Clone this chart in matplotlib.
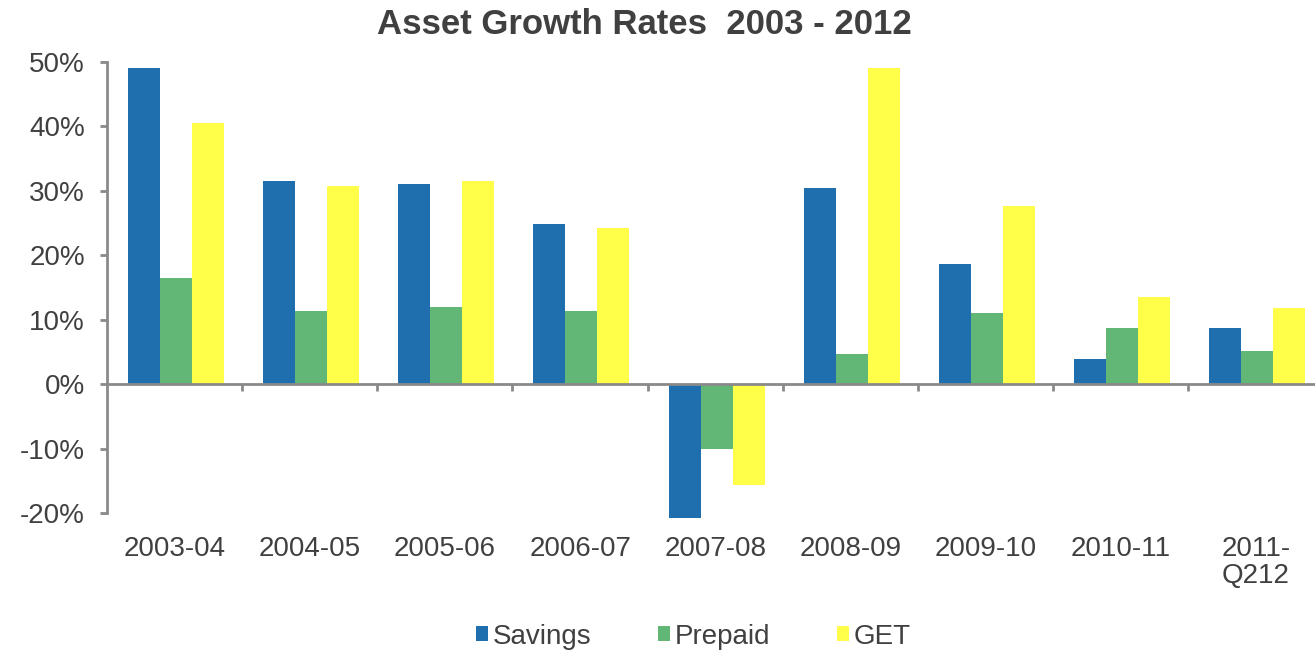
import matplotlib.pyplot as plt
import matplotlib.transforms as mtransforms
from matplotlib.ticker import PercentFormatter
import numpy as np

plt.rcParams['font.family'] = ['Liberation Sans', 'DejaVu Sans']
plt.rcParams['axes.unicode_minus'] = False

periods = ['2003-04', '2004-05', '2005-06', '2006-07', '2007-08',
           '2008-09', '2009-10', '2010-11', '2011-\nQ212']
savings = [49.0, 31.6, 31.0, 24.8, -20.7, 30.5, 18.7, 3.9, 8.7]
prepaid = [16.5, 11.4, 12.0, 11.4, -10.1, 4.7, 11.1, 8.7, 5.1]
get = [40.5, 30.7, 31.5, 24.3, -15.6, 49.0, 27.6, 13.6, 11.8]

series = [('Savings', savings, '#1f6fae'),
          ('Prepaid', prepaid, '#63b776'),
          ('GET', get, '#ffff4a')]

text_color = '#404040'
axis_color = '#8a8a8a'

fig = plt.figure(figsize=(13.15, 6.53), dpi=100)
ax = fig.add_axes([0.0814, 0.2144, 0.925, 0.6906])

x = np.arange(len(periods))
w = 0.237
for k, (name, vals, col) in enumerate(series):
    ax.bar(x + (k - 1) * w + 0.01, vals, width=w, color=col, label=name,
           zorder=2, clip_on=False)

ax.set_xlim(-0.5, 8.5)
ax.set_ylim(-20, 50)
ax.set_yticks(range(-20, 51, 10))
ax.yaxis.set_major_formatter(PercentFormatter(decimals=0))

# x axis sits on the zero line, ticks mark group boundaries
for s in ['top', 'right']:
    ax.spines[s].set_visible(False)
ax.spines['bottom'].set_position(('data', 0))
for s in ['left', 'bottom']:
    ax.spines[s].set_color(axis_color)
    ax.spines[s].set_linewidth(2)
ax.set_xticks(np.arange(0.5, 8.5, 1))
ax.set_xticklabels([])
ax.tick_params(axis='x', direction='out', length=5, width=2, color=axis_color)
ax.tick_params(axis='y', direction='out', length=5, width=2, color=axis_color,
               labelsize=20, labelcolor=text_color, pad=11)

trans = mtransforms.blended_transform_factory(ax.transData, ax.transAxes)
for i, lab in enumerate(periods):
    ax.text(i, -0.052, lab, transform=trans, ha='center', va='top',
            fontsize=20, color=text_color, linespacing=1.05)

fig.text(0.49, 0.963, 'Asset Growth Rates  2003 - 2012', ha='center', va='center',
         fontsize=25, fontweight='bold', color=text_color)

fig.legend(loc='center', bbox_to_anchor=(0.527, 0.025), ncol=3, frameon=False,
           fontsize=20, labelcolor=text_color, handlelength=0.45, handleheight=0.45,
           handletextpad=0.15, columnspacing=2.4)

fig.savefig('out.png', dpi=100)
